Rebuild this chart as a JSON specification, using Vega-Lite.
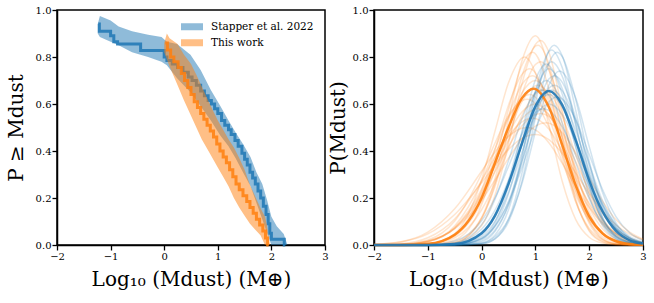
{
  "$schema": "https://vega.github.io/schema/vega-lite/v6.json",
  "background": "white",
  "padding": {"left": 5, "top": 4, "right": 0, "bottom": 0},
  "spacing": -2,
  "config": {
    "view": {"stroke": "black", "strokeWidth": 1.5},
    "axis": {
      "labelFont": "DejaVu Serif", "labelFontSize": 10, "labelColor": "black",
      "titleFont": "DejaVu Serif", "titleFontSize": 20, "titleFontWeight": "normal", "titleColor": "black",
      "tickColor": "black", "tickSize": 5, "tickWidth": 1.3, "domainColor": "black", "domainWidth": 1.5,
      "grid": false, "labelFlush": false, "labelOverlap": false, "labelPadding": 1
    },
    "legend": {"labelFont": "DejaVu Serif", "labelFontSize": 10.5, "labelColor": "black"}
  },
  "resolve": {"scale": {"color": "independent"}, "legend": {"color": "independent"}},
  "datasets": {
    "bands": [
      {"src": "Stapper et al. 2022", "x": -1.24, "lo": 0.9, "hi": 0.94},
      {"src": "Stapper et al. 2022", "x": -1.2, "lo": 0.885, "hi": 0.975},
      {"src": "Stapper et al. 2022", "x": -1.0, "lo": 0.865, "hi": 0.955},
      {"src": "Stapper et al. 2022", "x": -0.85, "lo": 0.85, "hi": 0.93},
      {"src": "Stapper et al. 2022", "x": -0.6, "lo": 0.82, "hi": 0.91},
      {"src": "Stapper et al. 2022", "x": -0.3, "lo": 0.8, "hi": 0.895},
      {"src": "Stapper et al. 2022", "x": -0.05, "lo": 0.78, "hi": 0.885},
      {"src": "Stapper et al. 2022", "x": 0.05, "lo": 0.765, "hi": 0.865},
      {"src": "Stapper et al. 2022", "x": 0.24, "lo": 0.71, "hi": 0.855},
      {"src": "Stapper et al. 2022", "x": 0.49, "lo": 0.65, "hi": 0.81},
      {"src": "Stapper et al. 2022", "x": 0.68, "lo": 0.59, "hi": 0.745},
      {"src": "Stapper et al. 2022", "x": 0.87, "lo": 0.53, "hi": 0.66},
      {"src": "Stapper et al. 2022", "x": 1.05, "lo": 0.465, "hi": 0.59},
      {"src": "Stapper et al. 2022", "x": 1.2, "lo": 0.42, "hi": 0.53},
      {"src": "Stapper et al. 2022", "x": 1.33, "lo": 0.37, "hi": 0.48},
      {"src": "Stapper et al. 2022", "x": 1.47, "lo": 0.31, "hi": 0.43},
      {"src": "Stapper et al. 2022", "x": 1.61, "lo": 0.25, "hi": 0.375},
      {"src": "Stapper et al. 2022", "x": 1.72, "lo": 0.18, "hi": 0.31},
      {"src": "Stapper et al. 2022", "x": 1.83, "lo": 0.11, "hi": 0.26},
      {"src": "Stapper et al. 2022", "x": 1.92, "lo": 0.05, "hi": 0.19},
      {"src": "Stapper et al. 2022", "x": 2.0, "lo": 0.0, "hi": 0.12},
      {"src": "Stapper et al. 2022", "x": 2.1, "lo": 0.0, "hi": 0.08},
      {"src": "Stapper et al. 2022", "x": 2.23, "lo": 0.0, "hi": 0.047},
      {"src": "Stapper et al. 2022", "x": 2.3, "lo": 0.0, "hi": 0.0},
      {"src": "This work", "x": 0.0, "lo": 0.82, "hi": 0.86},
      {"src": "This work", "x": 0.05, "lo": 0.79, "hi": 0.9},
      {"src": "This work", "x": 0.1, "lo": 0.76, "hi": 0.88},
      {"src": "This work", "x": 0.25, "lo": 0.68, "hi": 0.855},
      {"src": "This work", "x": 0.37, "lo": 0.615, "hi": 0.81},
      {"src": "This work", "x": 0.5, "lo": 0.55, "hi": 0.77},
      {"src": "This work", "x": 0.6, "lo": 0.5, "hi": 0.725},
      {"src": "This work", "x": 0.7, "lo": 0.45, "hi": 0.675},
      {"src": "This work", "x": 0.85, "lo": 0.39, "hi": 0.6},
      {"src": "This work", "x": 1.0, "lo": 0.33, "hi": 0.53},
      {"src": "This work", "x": 1.1, "lo": 0.29, "hi": 0.49},
      {"src": "This work", "x": 1.2, "lo": 0.25, "hi": 0.45},
      {"src": "This work", "x": 1.3, "lo": 0.2, "hi": 0.415},
      {"src": "This work", "x": 1.4, "lo": 0.16, "hi": 0.37},
      {"src": "This work", "x": 1.5, "lo": 0.125, "hi": 0.32},
      {"src": "This work", "x": 1.6, "lo": 0.09, "hi": 0.255},
      {"src": "This work", "x": 1.7, "lo": 0.065, "hi": 0.205},
      {"src": "This work", "x": 1.8, "lo": 0.04, "hi": 0.155},
      {"src": "This work", "x": 1.88, "lo": 0.0, "hi": 0.12},
      {"src": "This work", "x": 1.92, "lo": 0.0, "hi": 0.08},
      {"src": "This work", "x": 1.95, "lo": 0.0, "hi": 0.03},
      {"src": "This work", "x": 1.97, "lo": 0.0, "hi": 0.0}
    ],
    "steps": [
      {"src": "Stapper et al. 2022", "x": -1.23, "y": 0.94},
      {"src": "Stapper et al. 2022", "x": -1.21, "y": 0.91},
      {"src": "Stapper et al. 2022", "x": -1.0, "y": 0.89},
      {"src": "Stapper et al. 2022", "x": -0.94, "y": 0.865},
      {"src": "Stapper et al. 2022", "x": -0.87, "y": 0.855},
      {"src": "Stapper et al. 2022", "x": -0.44, "y": 0.828},
      {"src": "Stapper et al. 2022", "x": 0.0, "y": 0.8},
      {"src": "Stapper et al. 2022", "x": 0.05, "y": 0.785},
      {"src": "Stapper et al. 2022", "x": 0.15, "y": 0.77},
      {"src": "Stapper et al. 2022", "x": 0.25, "y": 0.755},
      {"src": "Stapper et al. 2022", "x": 0.35, "y": 0.735},
      {"src": "Stapper et al. 2022", "x": 0.45, "y": 0.715},
      {"src": "Stapper et al. 2022", "x": 0.52, "y": 0.7},
      {"src": "Stapper et al. 2022", "x": 0.6, "y": 0.68},
      {"src": "Stapper et al. 2022", "x": 0.68, "y": 0.655},
      {"src": "Stapper et al. 2022", "x": 0.75, "y": 0.635},
      {"src": "Stapper et al. 2022", "x": 0.82, "y": 0.615},
      {"src": "Stapper et al. 2022", "x": 0.88, "y": 0.6},
      {"src": "Stapper et al. 2022", "x": 0.94, "y": 0.58},
      {"src": "Stapper et al. 2022", "x": 1.0, "y": 0.56},
      {"src": "Stapper et al. 2022", "x": 1.07, "y": 0.53},
      {"src": "Stapper et al. 2022", "x": 1.13, "y": 0.51},
      {"src": "Stapper et al. 2022", "x": 1.2, "y": 0.49},
      {"src": "Stapper et al. 2022", "x": 1.25, "y": 0.47},
      {"src": "Stapper et al. 2022", "x": 1.32, "y": 0.445},
      {"src": "Stapper et al. 2022", "x": 1.38, "y": 0.42},
      {"src": "Stapper et al. 2022", "x": 1.45, "y": 0.39},
      {"src": "Stapper et al. 2022", "x": 1.5, "y": 0.365},
      {"src": "Stapper et al. 2022", "x": 1.55, "y": 0.34},
      {"src": "Stapper et al. 2022", "x": 1.6, "y": 0.31},
      {"src": "Stapper et al. 2022", "x": 1.65, "y": 0.285},
      {"src": "Stapper et al. 2022", "x": 1.7, "y": 0.26},
      {"src": "Stapper et al. 2022", "x": 1.75, "y": 0.23},
      {"src": "Stapper et al. 2022", "x": 1.8, "y": 0.2},
      {"src": "Stapper et al. 2022", "x": 1.85, "y": 0.165},
      {"src": "Stapper et al. 2022", "x": 1.9, "y": 0.13},
      {"src": "Stapper et al. 2022", "x": 1.94, "y": 0.09},
      {"src": "Stapper et al. 2022", "x": 1.97, "y": 0.05},
      {"src": "Stapper et al. 2022", "x": 2.0, "y": 0.025},
      {"src": "Stapper et al. 2022", "x": 2.24, "y": 0.0},
      {"src": "Stapper et al. 2022", "x": 2.26, "y": 0.0},
      {"src": "This work", "x": 0.02, "y": 0.86},
      {"src": "This work", "x": 0.06, "y": 0.83},
      {"src": "This work", "x": 0.12, "y": 0.8},
      {"src": "This work", "x": 0.18, "y": 0.78},
      {"src": "This work", "x": 0.26, "y": 0.755},
      {"src": "This work", "x": 0.32, "y": 0.73},
      {"src": "This work", "x": 0.38, "y": 0.7},
      {"src": "This work", "x": 0.44, "y": 0.67},
      {"src": "This work", "x": 0.5, "y": 0.64},
      {"src": "This work", "x": 0.56, "y": 0.61},
      {"src": "This work", "x": 0.62, "y": 0.585},
      {"src": "This work", "x": 0.68, "y": 0.56},
      {"src": "This work", "x": 0.74, "y": 0.535},
      {"src": "This work", "x": 0.8, "y": 0.51},
      {"src": "This work", "x": 0.86, "y": 0.485},
      {"src": "This work", "x": 0.92, "y": 0.46},
      {"src": "This work", "x": 0.98, "y": 0.43},
      {"src": "This work", "x": 1.04, "y": 0.4},
      {"src": "This work", "x": 1.1, "y": 0.375},
      {"src": "This work", "x": 1.16, "y": 0.35},
      {"src": "This work", "x": 1.22, "y": 0.32},
      {"src": "This work", "x": 1.28, "y": 0.29},
      {"src": "This work", "x": 1.34, "y": 0.26},
      {"src": "This work", "x": 1.4, "y": 0.235},
      {"src": "This work", "x": 1.47, "y": 0.21},
      {"src": "This work", "x": 1.54, "y": 0.185},
      {"src": "This work", "x": 1.6, "y": 0.16},
      {"src": "This work", "x": 1.66, "y": 0.135},
      {"src": "This work", "x": 1.72, "y": 0.11},
      {"src": "This work", "x": 1.78, "y": 0.085},
      {"src": "This work", "x": 1.84, "y": 0.06},
      {"src": "This work", "x": 1.89, "y": 0.03},
      {"src": "This work", "x": 1.93, "y": 0.0},
      {"src": "This work", "x": 1.95, "y": 0.0}
    ],
    "curves": [
      {"id": "o1", "x": -2, "y": 0}, {"id": "o1", "x": -1.5, "y": 0}, {"id": "o1", "x": -1, "y": 0}, {"id": "o1", "x": -0.5, "y": 0.009}, {"id": "o1", "x": 0, "y": 0.116}, {"id": "o1", "x": 0.25, "y": 0.282}, {"id": "o1", "x": 0.5, "y": 0.534}, {"id": "o1", "x": 0.75, "y": 0.783}, {"id": "o1", "x": 1, "y": 0.89}, {"id": "o1", "x": 1.25, "y": 0.752}, {"id": "o1", "x": 1.5, "y": 0.454}, {"id": "o1", "x": 1.75, "y": 0.196}, {"id": "o1", "x": 2, "y": 0.059}, {"id": "o1", "x": 2.25, "y": 0.013}, {"id": "o1", "x": 2.5, "y": 0.002}, {"id": "o1", "x": 2.75, "y": 0}, {"id": "o1", "x": 3, "y": 0},
      {"id": "o2", "x": -2, "y": 0}, {"id": "o2", "x": -1.5, "y": 0}, {"id": "o2", "x": -1, "y": 0}, {"id": "o2", "x": -0.5, "y": 0.01}, {"id": "o2", "x": 0, "y": 0.11}, {"id": "o2", "x": 0.25, "y": 0.26}, {"id": "o2", "x": 0.5, "y": 0.485}, {"id": "o2", "x": 0.75, "y": 0.718}, {"id": "o2", "x": 1, "y": 0.846}, {"id": "o2", "x": 1.05, "y": 0.85}, {"id": "o2", "x": 1.25, "y": 0.771}, {"id": "o2", "x": 1.5, "y": 0.516}, {"id": "o2", "x": 1.75, "y": 0.252}, {"id": "o2", "x": 2, "y": 0.092}, {"id": "o2", "x": 2.25, "y": 0.024}, {"id": "o2", "x": 2.5, "y": 0.005}, {"id": "o2", "x": 2.75, "y": 0.001}, {"id": "o2", "x": 3, "y": 0},
      {"id": "o3", "x": -2, "y": 0}, {"id": "o3", "x": -1.5, "y": 0}, {"id": "o3", "x": -1, "y": 0.001}, {"id": "o3", "x": -0.5, "y": 0.021}, {"id": "o3", "x": 0, "y": 0.171}, {"id": "o3", "x": 0.25, "y": 0.353}, {"id": "o3", "x": 0.5, "y": 0.576}, {"id": "o3", "x": 0.75, "y": 0.765}, {"id": "o3", "x": 0.95, "y": 0.82}, {"id": "o3", "x": 1.25, "y": 0.664}, {"id": "o3", "x": 1.5, "y": 0.406}, {"id": "o3", "x": 1.75, "y": 0.186}, {"id": "o3", "x": 2, "y": 0.064}, {"id": "o3", "x": 2.25, "y": 0.016}, {"id": "o3", "x": 2.5, "y": 0.003}, {"id": "o3", "x": 2.75, "y": 0}, {"id": "o3", "x": 3, "y": 0},
      {"id": "o4", "x": -2, "y": 0}, {"id": "o4", "x": -1.5, "y": 0}, {"id": "o4", "x": -1, "y": 0.001}, {"id": "o4", "x": -0.5, "y": 0.014}, {"id": "o4", "x": 0, "y": 0.116}, {"id": "o4", "x": 0.25, "y": 0.25}, {"id": "o4", "x": 0.5, "y": 0.444}, {"id": "o4", "x": 0.75, "y": 0.643}, {"id": "o4", "x": 1, "y": 0.768}, {"id": "o4", "x": 1.1, "y": 0.78}, {"id": "o4", "x": 1.25, "y": 0.744}, {"id": "o4", "x": 1.5, "y": 0.557}, {"id": "o4", "x": 1.75, "y": 0.32}, {"id": "o4", "x": 2, "y": 0.141}, {"id": "o4", "x": 2.25, "y": 0.048}, {"id": "o4", "x": 2.5, "y": 0.013}, {"id": "o4", "x": 2.75, "y": 0.002}, {"id": "o4", "x": 3, "y": 0},
      {"id": "o5", "x": -2, "y": 0}, {"id": "o5", "x": -1.5, "y": 0}, {"id": "o5", "x": -1, "y": 0.004}, {"id": "o5", "x": -0.5, "y": 0.044}, {"id": "o5", "x": 0, "y": 0.233}, {"id": "o5", "x": 0.25, "y": 0.406}, {"id": "o5", "x": 0.5, "y": 0.595}, {"id": "o5", "x": 0.75, "y": 0.726}, {"id": "o5", "x": 0.9, "y": 0.75}, {"id": "o5", "x": 1.25, "y": 0.591}, {"id": "o5", "x": 1.5, "y": 0.374}, {"id": "o5", "x": 1.75, "y": 0.183}, {"id": "o5", "x": 2, "y": 0.071}, {"id": "o5", "x": 2.25, "y": 0.022}, {"id": "o5", "x": 2.5, "y": 0.005}, {"id": "o5", "x": 2.75, "y": 0.001}, {"id": "o5", "x": 3, "y": 0},
      {"id": "o6", "x": -2, "y": 0}, {"id": "o6", "x": -1.5, "y": 0}, {"id": "o6", "x": -1, "y": 0.004}, {"id": "o6", "x": -0.5, "y": 0.041}, {"id": "o6", "x": 0, "y": 0.198}, {"id": "o6", "x": 0.25, "y": 0.345}, {"id": "o6", "x": 0.5, "y": 0.51}, {"id": "o6", "x": 0.75, "y": 0.647}, {"id": "o6", "x": 1, "y": 0.7}, {"id": "o6", "x": 1.25, "y": 0.629}, {"id": "o6", "x": 1.5, "y": 0.458}, {"id": "o6", "x": 1.75, "y": 0.27}, {"id": "o6", "x": 2, "y": 0.129}, {"id": "o6", "x": 2.25, "y": 0.05}, {"id": "o6", "x": 2.5, "y": 0.016}, {"id": "o6", "x": 2.75, "y": 0.004}, {"id": "o6", "x": 3, "y": 0.001},
      {"id": "o7", "x": -2, "y": 0}, {"id": "o7", "x": -1.5, "y": 0}, {"id": "o7", "x": -1, "y": 0.004}, {"id": "o7", "x": -0.5, "y": 0.031}, {"id": "o7", "x": 0, "y": 0.15}, {"id": "o7", "x": 0.25, "y": 0.265}, {"id": "o7", "x": 0.5, "y": 0.41}, {"id": "o7", "x": 0.75, "y": 0.551}, {"id": "o7", "x": 1, "y": 0.643}, {"id": "o7", "x": 1.15, "y": 0.66}, {"id": "o7", "x": 1.25, "y": 0.65}, {"id": "o7", "x": 1.5, "y": 0.548}, {"id": "o7", "x": 1.75, "y": 0.383}, {"id": "o7", "x": 2, "y": 0.222}, {"id": "o7", "x": 2.25, "y": 0.106}, {"id": "o7", "x": 2.5, "y": 0.043}, {"id": "o7", "x": 2.75, "y": 0.014}, {"id": "o7", "x": 3, "y": 0.004},
      {"id": "o8", "x": -2, "y": 0}, {"id": "o8", "x": -1.5, "y": 0.003}, {"id": "o8", "x": -1, "y": 0.021}, {"id": "o8", "x": -0.5, "y": 0.102}, {"id": "o8", "x": 0, "y": 0.303}, {"id": "o8", "x": 0.25, "y": 0.434}, {"id": "o8", "x": 0.5, "y": 0.549}, {"id": "o8", "x": 0.75, "y": 0.614}, {"id": "o8", "x": 0.85, "y": 0.62}, {"id": "o8", "x": 1, "y": 0.602}, {"id": "o8", "x": 1.25, "y": 0.502}, {"id": "o8", "x": 1.5, "y": 0.353}, {"id": "o8", "x": 1.75, "y": 0.211}, {"id": "o8", "x": 2, "y": 0.107}, {"id": "o8", "x": 2.25, "y": 0.046}, {"id": "o8", "x": 2.5, "y": 0.017}, {"id": "o8", "x": 2.75, "y": 0.005}, {"id": "o8", "x": 3, "y": 0.001},
      {"id": "o9", "x": -2, "y": 0}, {"id": "o9", "x": -1.5, "y": 0.002}, {"id": "o9", "x": -1, "y": 0.015}, {"id": "o9", "x": -0.5, "y": 0.072}, {"id": "o9", "x": 0, "y": 0.223}, {"id": "o9", "x": 0.25, "y": 0.333}, {"id": "o9", "x": 0.5, "y": 0.446}, {"id": "o9", "x": 0.75, "y": 0.537}, {"id": "o9", "x": 1.05, "y": 0.58}, {"id": "o9", "x": 1.25, "y": 0.554}, {"id": "o9", "x": 1.5, "y": 0.458}, {"id": "o9", "x": 1.75, "y": 0.328}, {"id": "o9", "x": 2, "y": 0.202}, {"id": "o9", "x": 2.25, "y": 0.108}, {"id": "o9", "x": 2.5, "y": 0.05}, {"id": "o9", "x": 2.75, "y": 0.02}, {"id": "o9", "x": 3, "y": 0.007},
      {"id": "o10", "x": -2, "y": 0.001}, {"id": "o10", "x": -1.5, "y": 0.006}, {"id": "o10", "x": -1, "y": 0.031}, {"id": "o10", "x": -0.5, "y": 0.111}, {"id": "o10", "x": 0, "y": 0.274}, {"id": "o10", "x": 0.25, "y": 0.374}, {"id": "o10", "x": 0.5, "y": 0.463}, {"id": "o10", "x": 0.75, "y": 0.524}, {"id": "o10", "x": 0.95, "y": 0.54}, {"id": "o10", "x": 1.25, "y": 0.493}, {"id": "o10", "x": 1.5, "y": 0.398}, {"id": "o10", "x": 1.75, "y": 0.282}, {"id": "o10", "x": 2, "y": 0.178}, {"id": "o10", "x": 2.25, "y": 0.098}, {"id": "o10", "x": 2.5, "y": 0.048}, {"id": "o10", "x": 2.75, "y": 0.02}, {"id": "o10", "x": 3, "y": 0.008},
      {"id": "o11", "x": -2, "y": 0.003}, {"id": "o11", "x": -1.5, "y": 0.014}, {"id": "o11", "x": -1, "y": 0.055}, {"id": "o11", "x": -0.5, "y": 0.154}, {"id": "o11", "x": 0, "y": 0.314}, {"id": "o11", "x": 0.25, "y": 0.396}, {"id": "o11", "x": 0.5, "y": 0.462}, {"id": "o11", "x": 0.75, "y": 0.497}, {"id": "o11", "x": 0.85, "y": 0.5}, {"id": "o11", "x": 1, "y": 0.49}, {"id": "o11", "x": 1.25, "y": 0.435}, {"id": "o11", "x": 1.5, "y": 0.347}, {"id": "o11", "x": 1.75, "y": 0.249}, {"id": "o11", "x": 2, "y": 0.16}, {"id": "o11", "x": 2.25, "y": 0.092}, {"id": "o11", "x": 2.5, "y": 0.047}, {"id": "o11", "x": 2.75, "y": 0.022}, {"id": "o11", "x": 3, "y": 0.009},
      {"id": "o12", "x": -2, "y": 0.003}, {"id": "o12", "x": -1.5, "y": 0.013}, {"id": "o12", "x": -1, "y": 0.047}, {"id": "o12", "x": -0.5, "y": 0.13}, {"id": "o12", "x": 0, "y": 0.265}, {"id": "o12", "x": 0.25, "y": 0.341}, {"id": "o12", "x": 0.5, "y": 0.407}, {"id": "o12", "x": 0.75, "y": 0.454}, {"id": "o12", "x": 1, "y": 0.47}, {"id": "o12", "x": 1.25, "y": 0.448}, {"id": "o12", "x": 1.5, "y": 0.389}, {"id": "o12", "x": 1.75, "y": 0.306}, {"id": "o12", "x": 2, "y": 0.219}, {"id": "o12", "x": 2.25, "y": 0.143}, {"id": "o12", "x": 2.5, "y": 0.085}, {"id": "o12", "x": 2.75, "y": 0.046}, {"id": "o12", "x": 3, "y": 0.022},
      {"id": "o13", "x": -2, "y": 0}, {"id": "o13", "x": -1.5, "y": 0}, {"id": "o13", "x": -1, "y": 0}, {"id": "o13", "x": -0.5, "y": 0.006}, {"id": "o13", "x": 0, "y": 0.083}, {"id": "o13", "x": 0.25, "y": 0.212}, {"id": "o13", "x": 0.5, "y": 0.43}, {"id": "o13", "x": 0.75, "y": 0.686}, {"id": "o13", "x": 1, "y": 0.853}, {"id": "o13", "x": 1.1, "y": 0.87}, {"id": "o13", "x": 1.25, "y": 0.82}, {"id": "o13", "x": 1.5, "y": 0.573}, {"id": "o13", "x": 1.75, "y": 0.288}, {"id": "o13", "x": 2, "y": 0.104}, {"id": "o13", "x": 2.25, "y": 0.027}, {"id": "o13", "x": 2.5, "y": 0.005}, {"id": "o13", "x": 2.75, "y": 0.001}, {"id": "o13", "x": 3, "y": 0},
      {"id": "o14", "x": -2, "y": 0}, {"id": "o14", "x": -1.5, "y": 0}, {"id": "o14", "x": -1, "y": 0.004}, {"id": "o14", "x": -0.5, "y": 0.043}, {"id": "o14", "x": 0, "y": 0.215}, {"id": "o14", "x": 0.25, "y": 0.374}, {"id": "o14", "x": 0.5, "y": 0.549}, {"id": "o14", "x": 0.75, "y": 0.683}, {"id": "o14", "x": 0.95, "y": 0.72}, {"id": "o14", "x": 1.25, "y": 0.613}, {"id": "o14", "x": 1.5, "y": 0.419}, {"id": "o14", "x": 1.75, "y": 0.228}, {"id": "o14", "x": 2, "y": 0.099}, {"id": "o14", "x": 2.25, "y": 0.035}, {"id": "o14", "x": 2.5, "y": 0.01}, {"id": "o14", "x": 2.75, "y": 0.002}, {"id": "o14", "x": 3, "y": 0},
      {"id": "o15", "x": -2, "y": 0}, {"id": "o15", "x": -1.5, "y": 0}, {"id": "o15", "x": -1, "y": 0.004}, {"id": "o15", "x": -0.5, "y": 0.038}, {"id": "o15", "x": 0, "y": 0.183}, {"id": "o15", "x": 0.25, "y": 0.317}, {"id": "o15", "x": 0.5, "y": 0.474}, {"id": "o15", "x": 0.75, "y": 0.61}, {"id": "o15", "x": 1.05, "y": 0.68}, {"id": "o15", "x": 1.25, "y": 0.638}, {"id": "o15", "x": 1.5, "y": 0.492}, {"id": "o15", "x": 1.75, "y": 0.311}, {"id": "o15", "x": 2, "y": 0.16}, {"id": "o15", "x": 2.25, "y": 0.068}, {"id": "o15", "x": 2.5, "y": 0.024}, {"id": "o15", "x": 2.75, "y": 0.007}, {"id": "o15", "x": 3, "y": 0.002},
      {"id": "o16", "x": -2, "y": 0}, {"id": "o16", "x": -1.5, "y": 0.001}, {"id": "o16", "x": -1, "y": 0.014}, {"id": "o16", "x": -0.5, "y": 0.081}, {"id": "o16", "x": 0, "y": 0.271}, {"id": "o16", "x": 0.25, "y": 0.41}, {"id": "o16", "x": 0.5, "y": 0.54}, {"id": "o16", "x": 0.75, "y": 0.625}, {"id": "o16", "x": 0.9, "y": 0.64}, {"id": "o16", "x": 1.25, "y": 0.538}, {"id": "o16", "x": 1.5, "y": 0.384}, {"id": "o16", "x": 1.75, "y": 0.23}, {"id": "o16", "x": 2, "y": 0.115}, {"id": "o16", "x": 2.25, "y": 0.049}, {"id": "o16", "x": 2.5, "y": 0.017}, {"id": "o16", "x": 2.75, "y": 0.005}, {"id": "o16", "x": 3, "y": 0.001},
      {"id": "o17", "x": -2, "y": 0}, {"id": "o17", "x": -1.5, "y": 0.002}, {"id": "o17", "x": -1, "y": 0.016}, {"id": "o17", "x": -0.5, "y": 0.071}, {"id": "o17", "x": 0, "y": 0.21}, {"id": "o17", "x": 0.25, "y": 0.312}, {"id": "o17", "x": 0.5, "y": 0.418}, {"id": "o17", "x": 0.75, "y": 0.507}, {"id": "o17", "x": 1.1, "y": 0.56}, {"id": "o17", "x": 1.25, "y": 0.547}, {"id": "o17", "x": 1.5, "y": 0.471}, {"id": "o17", "x": 1.75, "y": 0.354}, {"id": "o17", "x": 2, "y": 0.233}, {"id": "o17", "x": 2.25, "y": 0.133}, {"id": "o17", "x": 2.5, "y": 0.067}, {"id": "o17", "x": 2.75, "y": 0.029}, {"id": "o17", "x": 3, "y": 0.011},
      {"id": "o18", "x": -2, "y": 0}, {"id": "o18", "x": -1.5, "y": 0.003}, {"id": "o18", "x": -1, "y": 0.018}, {"id": "o18", "x": -0.5, "y": 0.069}, {"id": "o18", "x": 0, "y": 0.19}, {"id": "o18", "x": 0.25, "y": 0.277}, {"id": "o18", "x": 0.5, "y": 0.369}, {"id": "o18", "x": 0.75, "y": 0.451}, {"id": "o18", "x": 1, "y": 0.506}, {"id": "o18", "x": 1.2, "y": 0.52}, {"id": "o18", "x": 1.5, "y": 0.478}, {"id": "o18", "x": 1.75, "y": 0.392}, {"id": "o18", "x": 2, "y": 0.286}, {"id": "o18", "x": 2.25, "y": 0.186}, {"id": "o18", "x": 2.5, "y": 0.107}, {"id": "o18", "x": 2.75, "y": 0.055}, {"id": "o18", "x": 3, "y": 0.025},
      {"id": "o19", "x": -2, "y": 0}, {"id": "o19", "x": -1.5, "y": 0}, {"id": "o19", "x": -1, "y": 0.004}, {"id": "o19", "x": -0.5, "y": 0.049}, {"id": "o19", "x": 0, "y": 0.278}, {"id": "o19", "x": 0.25, "y": 0.485}, {"id": "o19", "x": 0.5, "y": 0.69}, {"id": "o19", "x": 0.8, "y": 0.8}, {"id": "o19", "x": 1, "y": 0.732}, {"id": "o19", "x": 1.25, "y": 0.511}, {"id": "o19", "x": 1.5, "y": 0.27}, {"id": "o19", "x": 1.75, "y": 0.108}, {"id": "o19", "x": 2, "y": 0.033}, {"id": "o19", "x": 2.25, "y": 0.008}, {"id": "o19", "x": 2.5, "y": 0.001}, {"id": "o19", "x": 2.75, "y": 0}, {"id": "o19", "x": 3, "y": 0},
      {"id": "o20", "x": -2, "y": 0}, {"id": "o20", "x": -1.5, "y": 0.002}, {"id": "o20", "x": -1, "y": 0.014}, {"id": "o20", "x": -0.5, "y": 0.074}, {"id": "o20", "x": 0, "y": 0.237}, {"id": "o20", "x": 0.25, "y": 0.356}, {"id": "o20", "x": 0.5, "y": 0.476}, {"id": "o20", "x": 0.75, "y": 0.566}, {"id": "o20", "x": 1, "y": 0.6}, {"id": "o20", "x": 1.25, "y": 0.555}, {"id": "o20", "x": 1.5, "y": 0.439}, {"id": "o20", "x": 1.75, "y": 0.297}, {"id": "o20", "x": 2, "y": 0.172}, {"id": "o20", "x": 2.25, "y": 0.085}, {"id": "o20", "x": 2.5, "y": 0.036}, {"id": "o20", "x": 2.75, "y": 0.013}, {"id": "o20", "x": 3, "y": 0.004},
      {"id": "b1", "x": -2, "y": 0}, {"id": "b1", "x": -1, "y": 0}, {"id": "b1", "x": -0.5, "y": 0}, {"id": "b1", "x": 0, "y": 0.005}, {"id": "b1", "x": 0.25, "y": 0.027}, {"id": "b1", "x": 0.5, "y": 0.11}, {"id": "b1", "x": 0.75, "y": 0.306}, {"id": "b1", "x": 1, "y": 0.601}, {"id": "b1", "x": 1.25, "y": 0.826}, {"id": "b1", "x": 1.35, "y": 0.85}, {"id": "b1", "x": 1.5, "y": 0.804}, {"id": "b1", "x": 1.75, "y": 0.573}, {"id": "b1", "x": 2, "y": 0.3}, {"id": "b1", "x": 2.25, "y": 0.115}, {"id": "b1", "x": 2.5, "y": 0.032}, {"id": "b1", "x": 2.75, "y": 0.007}, {"id": "b1", "x": 3, "y": 0.001},
      {"id": "b2", "x": -2, "y": 0}, {"id": "b2", "x": -1, "y": 0}, {"id": "b2", "x": -0.5, "y": 0}, {"id": "b2", "x": 0, "y": 0.005}, {"id": "b2", "x": 0.25, "y": 0.026}, {"id": "b2", "x": 0.5, "y": 0.098}, {"id": "b2", "x": 0.75, "y": 0.271}, {"id": "b2", "x": 1, "y": 0.54}, {"id": "b2", "x": 1.25, "y": 0.773}, {"id": "b2", "x": 1.4, "y": 0.82}, {"id": "b2", "x": 1.5, "y": 0.801}, {"id": "b2", "x": 1.75, "y": 0.618}, {"id": "b2", "x": 2, "y": 0.357}, {"id": "b2", "x": 2.25, "y": 0.154}, {"id": "b2", "x": 2.5, "y": 0.05}, {"id": "b2", "x": 2.75, "y": 0.012}, {"id": "b2", "x": 3, "y": 0.002},
      {"id": "b3", "x": -2, "y": 0}, {"id": "b3", "x": -1, "y": 0}, {"id": "b3", "x": -0.5, "y": 0}, {"id": "b3", "x": 0, "y": 0.014}, {"id": "b3", "x": 0.25, "y": 0.058}, {"id": "b3", "x": 0.5, "y": 0.172}, {"id": "b3", "x": 0.75, "y": 0.381}, {"id": "b3", "x": 1, "y": 0.63}, {"id": "b3", "x": 1.3, "y": 0.78}, {"id": "b3", "x": 1.5, "y": 0.717}, {"id": "b3", "x": 1.75, "y": 0.51}, {"id": "b3", "x": 2, "y": 0.279}, {"id": "b3", "x": 2.25, "y": 0.117}, {"id": "b3", "x": 2.5, "y": 0.038}, {"id": "b3", "x": 2.75, "y": 0.009}, {"id": "b3", "x": 3, "y": 0.002},
      {"id": "b4", "x": -2, "y": 0}, {"id": "b4", "x": -1, "y": 0}, {"id": "b4", "x": -0.5, "y": 0.001}, {"id": "b4", "x": 0, "y": 0.025}, {"id": "b4", "x": 0.25, "y": 0.084}, {"id": "b4", "x": 0.5, "y": 0.218}, {"id": "b4", "x": 0.75, "y": 0.434}, {"id": "b4", "x": 1, "y": 0.654}, {"id": "b4", "x": 1.25, "y": 0.75}, {"id": "b4", "x": 1.5, "y": 0.665}, {"id": "b4", "x": 1.75, "y": 0.462}, {"id": "b4", "x": 2, "y": 0.252}, {"id": "b4", "x": 2.25, "y": 0.108}, {"id": "b4", "x": 2.5, "y": 0.036}, {"id": "b4", "x": 2.75, "y": 0.01}, {"id": "b4", "x": 3, "y": 0.002},
      {"id": "b5", "x": -2, "y": 0}, {"id": "b5", "x": -1, "y": 0}, {"id": "b5", "x": -0.5, "y": 0.001}, {"id": "b5", "x": 0, "y": 0.019}, {"id": "b5", "x": 0.25, "y": 0.064}, {"id": "b5", "x": 0.5, "y": 0.17}, {"id": "b5", "x": 0.75, "y": 0.351}, {"id": "b5", "x": 1, "y": 0.564}, {"id": "b5", "x": 1.25, "y": 0.706}, {"id": "b5", "x": 1.35, "y": 0.72}, {"id": "b5", "x": 1.5, "y": 0.692}, {"id": "b5", "x": 1.75, "y": 0.541}, {"id": "b5", "x": 2, "y": 0.338}, {"id": "b5", "x": 2.25, "y": 0.17}, {"id": "b5", "x": 2.5, "y": 0.068}, {"id": "b5", "x": 2.75, "y": 0.022}, {"id": "b5", "x": 3, "y": 0.006},
      {"id": "b6", "x": -2, "y": 0}, {"id": "b6", "x": -1, "y": 0}, {"id": "b6", "x": -0.5, "y": 0.003}, {"id": "b6", "x": 0, "y": 0.045}, {"id": "b6", "x": 0.25, "y": 0.126}, {"id": "b6", "x": 0.5, "y": 0.276}, {"id": "b6", "x": 0.75, "y": 0.477}, {"id": "b6", "x": 1, "y": 0.649}, {"id": "b6", "x": 1.2, "y": 0.7}, {"id": "b6", "x": 1.5, "y": 0.602}, {"id": "b6", "x": 1.75, "y": 0.42}, {"id": "b6", "x": 2, "y": 0.238}, {"id": "b6", "x": 2.25, "y": 0.109}, {"id": "b6", "x": 2.5, "y": 0.041}, {"id": "b6", "x": 2.75, "y": 0.012}, {"id": "b6", "x": 3, "y": 0.003},
      {"id": "b7", "x": -2, "y": 0}, {"id": "b7", "x": -1, "y": 0}, {"id": "b7", "x": -0.5, "y": 0.003}, {"id": "b7", "x": 0, "y": 0.038}, {"id": "b7", "x": 0.25, "y": 0.102}, {"id": "b7", "x": 0.5, "y": 0.223}, {"id": "b7", "x": 0.75, "y": 0.395}, {"id": "b7", "x": 1, "y": 0.566}, {"id": "b7", "x": 1.3, "y": 0.66}, {"id": "b7", "x": 1.5, "y": 0.622}, {"id": "b7", "x": 1.75, "y": 0.487}, {"id": "b7", "x": 2, "y": 0.316}, {"id": "b7", "x": 2.25, "y": 0.17}, {"id": "b7", "x": 2.5, "y": 0.076}, {"id": "b7", "x": 2.75, "y": 0.028}, {"id": "b7", "x": 3, "y": 0.009},
      {"id": "b8", "x": -2, "y": 0}, {"id": "b8", "x": -1, "y": 0}, {"id": "b8", "x": -0.5, "y": 0.002}, {"id": "b8", "x": 0, "y": 0.031}, {"id": "b8", "x": 0.25, "y": 0.082}, {"id": "b8", "x": 0.5, "y": 0.181}, {"id": "b8", "x": 0.75, "y": 0.329}, {"id": "b8", "x": 1, "y": 0.493}, {"id": "b8", "x": 1.25, "y": 0.609}, {"id": "b8", "x": 1.4, "y": 0.63}, {"id": "b8", "x": 1.5, "y": 0.621}, {"id": "b8", "x": 1.75, "y": 0.533}, {"id": "b8", "x": 2, "y": 0.385}, {"id": "b8", "x": 2.25, "y": 0.235}, {"id": "b8", "x": 2.5, "y": 0.12}, {"id": "b8", "x": 2.75, "y": 0.052}, {"id": "b8", "x": 3, "y": 0.019},
      {"id": "b9", "x": -2, "y": 0}, {"id": "b9", "x": -1, "y": 0.001}, {"id": "b9", "x": -0.5, "y": 0.008}, {"id": "b9", "x": 0, "y": 0.067}, {"id": "b9", "x": 0.25, "y": 0.148}, {"id": "b9", "x": 0.5, "y": 0.274}, {"id": "b9", "x": 0.75, "y": 0.423}, {"id": "b9", "x": 1, "y": 0.55}, {"id": "b9", "x": 1.25, "y": 0.6}, {"id": "b9", "x": 1.5, "y": 0.555}, {"id": "b9", "x": 1.75, "y": 0.44}, {"id": "b9", "x": 2, "y": 0.299}, {"id": "b9", "x": 2.25, "y": 0.173}, {"id": "b9", "x": 2.5, "y": 0.086}, {"id": "b9", "x": 2.75, "y": 0.037}, {"id": "b9", "x": 3, "y": 0.013},
      {"id": "b10", "x": -2, "y": 0}, {"id": "b10", "x": -1, "y": 0.001}, {"id": "b10", "x": -0.5, "y": 0.017}, {"id": "b10", "x": 0, "y": 0.103}, {"id": "b10", "x": 0.25, "y": 0.201}, {"id": "b10", "x": 0.5, "y": 0.334}, {"id": "b10", "x": 0.75, "y": 0.471}, {"id": "b10", "x": 1, "y": 0.563}, {"id": "b10", "x": 1.15, "y": 0.58}, {"id": "b10", "x": 1.25, "y": 0.573}, {"id": "b10", "x": 1.5, "y": 0.503}, {"id": "b10", "x": 1.75, "y": 0.382}, {"id": "b10", "x": 2, "y": 0.251}, {"id": "b10", "x": 2.25, "y": 0.143}, {"id": "b10", "x": 2.5, "y": 0.07}, {"id": "b10", "x": 2.75, "y": 0.03}, {"id": "b10", "x": 3, "y": 0.011},
      {"id": "b11", "x": -2, "y": 0}, {"id": "b11", "x": -1, "y": 0}, {"id": "b11", "x": -0.5, "y": 0}, {"id": "b11", "x": 0, "y": 0.009}, {"id": "b11", "x": 0.25, "y": 0.043}, {"id": "b11", "x": 0.5, "y": 0.15}, {"id": "b11", "x": 0.75, "y": 0.369}, {"id": "b11", "x": 1, "y": 0.652}, {"id": "b11", "x": 1.3, "y": 0.83}, {"id": "b11", "x": 1.5, "y": 0.754}, {"id": "b11", "x": 1.75, "y": 0.514}, {"id": "b11", "x": 2, "y": 0.26}, {"id": "b11", "x": 2.25, "y": 0.097}, {"id": "b11", "x": 2.5, "y": 0.027}, {"id": "b11", "x": 2.75, "y": 0.006}, {"id": "b11", "x": 3, "y": 0.001},
      {"id": "b12", "x": -2, "y": 0}, {"id": "b12", "x": -1, "y": 0}, {"id": "b12", "x": -0.5, "y": 0.001}, {"id": "b12", "x": 0, "y": 0.028}, {"id": "b12", "x": 0.25, "y": 0.096}, {"id": "b12", "x": 0.5, "y": 0.25}, {"id": "b12", "x": 0.75, "y": 0.483}, {"id": "b12", "x": 1, "y": 0.702}, {"id": "b12", "x": 1.2, "y": 0.77}, {"id": "b12", "x": 1.5, "y": 0.641}, {"id": "b12", "x": 1.75, "y": 0.415}, {"id": "b12", "x": 2, "y": 0.209}, {"id": "b12", "x": 2.25, "y": 0.082}, {"id": "b12", "x": 2.5, "y": 0.025}, {"id": "b12", "x": 2.75, "y": 0.006}, {"id": "b12", "x": 3, "y": 0.001},
      {"id": "b13", "x": -2, "y": 0}, {"id": "b13", "x": -1, "y": 0}, {"id": "b13", "x": -0.5, "y": 0.001}, {"id": "b13", "x": 0, "y": 0.026}, {"id": "b13", "x": 0.25, "y": 0.078}, {"id": "b13", "x": 0.5, "y": 0.186}, {"id": "b13", "x": 0.75, "y": 0.357}, {"id": "b13", "x": 1, "y": 0.546}, {"id": "b13", "x": 1.25, "y": 0.668}, {"id": "b13", "x": 1.35, "y": 0.68}, {"id": "b13", "x": 1.5, "y": 0.656}, {"id": "b13", "x": 1.75, "y": 0.527}, {"id": "b13", "x": 2, "y": 0.347}, {"id": "b13", "x": 2.25, "y": 0.187}, {"id": "b13", "x": 2.5, "y": 0.082}, {"id": "b13", "x": 2.75, "y": 0.03}, {"id": "b13", "x": 3, "y": 0.009},
      {"id": "b14", "x": -2, "y": 0}, {"id": "b14", "x": -1, "y": 0}, {"id": "b14", "x": -0.5, "y": 0.005}, {"id": "b14", "x": 0, "y": 0.054}, {"id": "b14", "x": 0.25, "y": 0.13}, {"id": "b14", "x": 0.5, "y": 0.262}, {"id": "b14", "x": 0.75, "y": 0.43}, {"id": "b14", "x": 1, "y": 0.579}, {"id": "b14", "x": 1.25, "y": 0.64}, {"id": "b14", "x": 1.5, "y": 0.586}, {"id": "b14", "x": 1.75, "y": 0.45}, {"id": "b14", "x": 2, "y": 0.289}, {"id": "b14", "x": 2.25, "y": 0.156}, {"id": "b14", "x": 2.5, "y": 0.071}, {"id": "b14", "x": 2.75, "y": 0.027}, {"id": "b14", "x": 3, "y": 0.009},
      {"id": "b15", "x": -2, "y": 0}, {"id": "b15", "x": -1, "y": 0}, {"id": "b15", "x": -0.5, "y": 0}, {"id": "b15", "x": 0, "y": 0.008}, {"id": "b15", "x": 0.25, "y": 0.035}, {"id": "b15", "x": 0.5, "y": 0.109}, {"id": "b15", "x": 0.75, "y": 0.261}, {"id": "b15", "x": 1, "y": 0.481}, {"id": "b15", "x": 1.25, "y": 0.68}, {"id": "b15", "x": 1.45, "y": 0.74}, {"id": "b15", "x": 1.75, "y": 0.625}, {"id": "b15", "x": 2, "y": 0.419}, {"id": "b15", "x": 2.25, "y": 0.222}, {"id": "b15", "x": 2.5, "y": 0.093}, {"id": "b15", "x": 2.75, "y": 0.031}, {"id": "b15", "x": 3, "y": 0.008},
      {"id": "b16", "x": -2, "y": 0}, {"id": "b16", "x": -1, "y": 0}, {"id": "b16", "x": -0.5, "y": 0.009}, {"id": "b16", "x": 0, "y": 0.086}, {"id": "b16", "x": 0.25, "y": 0.195}, {"id": "b16", "x": 0.5, "y": 0.359}, {"id": "b16", "x": 0.75, "y": 0.537}, {"id": "b16", "x": 1, "y": 0.649}, {"id": "b16", "x": 1.1, "y": 0.66}, {"id": "b16", "x": 1.25, "y": 0.638}, {"id": "b16", "x": 1.5, "y": 0.519}, {"id": "b16", "x": 1.75, "y": 0.35}, {"id": "b16", "x": 2, "y": 0.196}, {"id": "b16", "x": 2.25, "y": 0.091}, {"id": "b16", "x": 2.5, "y": 0.035}, {"id": "b16", "x": 2.75, "y": 0.011}, {"id": "b16", "x": 3, "y": 0.003},
      {"id": "ob", "x": -2, "y": 0}, {"id": "ob", "x": -1.5, "y": 0}, {"id": "ob", "x": -1, "y": 0.005}, {"id": "ob", "x": -0.5, "y": 0.044}, {"id": "ob", "x": 0, "y": 0.2}, {"id": "ob", "x": 0.25, "y": 0.35}, {"id": "ob", "x": 0.5, "y": 0.5}, {"id": "ob", "x": 0.75, "y": 0.625}, {"id": "ob", "x": 0.97, "y": 0.665}, {"id": "ob", "x": 1.25, "y": 0.587}, {"id": "ob", "x": 1.5, "y": 0.425}, {"id": "ob", "x": 1.75, "y": 0.253}, {"id": "ob", "x": 2, "y": 0.122}, {"id": "ob", "x": 2.25, "y": 0.049}, {"id": "ob", "x": 2.5, "y": 0.016}, {"id": "ob", "x": 2.75, "y": 0.004}, {"id": "ob", "x": 3, "y": 0.001},
      {"id": "bb", "x": -2, "y": 0}, {"id": "bb", "x": -1, "y": 0}, {"id": "bb", "x": -0.5, "y": 0.004}, {"id": "bb", "x": 0, "y": 0.05}, {"id": "bb", "x": 0.25, "y": 0.125}, {"id": "bb", "x": 0.5, "y": 0.26}, {"id": "bb", "x": 0.75, "y": 0.433}, {"id": "bb", "x": 1, "y": 0.59}, {"id": "bb", "x": 1.25, "y": 0.655}, {"id": "bb", "x": 1.5, "y": 0.595}, {"id": "bb", "x": 1.75, "y": 0.445}, {"id": "bb", "x": 2, "y": 0.274}, {"id": "bb", "x": 2.25, "y": 0.142}, {"id": "bb", "x": 2.5, "y": 0.06}, {"id": "bb", "x": 2.75, "y": 0.02}, {"id": "bb", "x": 3, "y": 0.006}
    ]
  },
  "hconcat": [
    {
      "width": 268,
      "height": 235,
      "encoding": {
        "x": {"type": "quantitative", "scale": {"domain": [-2, 3], "nice": false, "zero": false},
              "axis": {"values": [-2, -1, 0, 1, 2, 3], "format": "d", "title": "Log₁₀ (Mdust) (M⊕)", "titlePadding": 8}},
        "y": {"type": "quantitative", "scale": {"domain": [0, 1], "nice": false},
              "axis": {"values": [0, 0.2, 0.4, 0.6, 0.8, 1.0], "format": ".1f", "title": "P ≥ Mdust", "titlePadding": 9}}
      },
      "layer": [
        {
          "data": {"name": "bands"},
          "transform": [{"filter": "datum.src === 'Stapper et al. 2022'"}],
          "mark": {"type": "area", "opacity": 0.5},
          "encoding": {
            "x": {"field": "x", "type": "quantitative"},
            "y": {"field": "lo", "type": "quantitative"},
            "y2": {"field": "hi"},
            "color": {"field": "src", "type": "nominal",
              "scale": {"domain": ["Stapper et al. 2022", "This work"], "range": ["#1f77b4", "#ff7f0e"]},
              "legend": {"title": null, "orient": "none", "legendX": 124, "legendY": 9, "padding": 0,
                "symbolType": "M-1,-0.32H1V0.32H-1Z", "symbolSize": 484, "symbolOpacity": 0.5, "symbolStrokeWidth": 0,
                "clipHeight": 15.5, "rowPadding": 0, "labelOffset": 8}}
          }
        },
        {
          "data": {"name": "steps"},
          "transform": [{"filter": "datum.src === 'Stapper et al. 2022'"}],
          "mark": {"type": "line", "interpolate": "step-after", "color": "#1f77b4", "strokeWidth": 3, "opacity": 0.85},
          "encoding": {"x": {"field": "x", "type": "quantitative"}, "y": {"field": "y", "type": "quantitative"}}
        },
        {
          "data": {"name": "bands"},
          "transform": [{"filter": "datum.src === 'This work'"}],
          "mark": {"type": "area", "opacity": 0.5},
          "encoding": {
            "x": {"field": "x", "type": "quantitative"},
            "y": {"field": "lo", "type": "quantitative"},
            "y2": {"field": "hi"},
            "color": {"field": "src", "type": "nominal"}
          }
        },
        {
          "data": {"name": "steps"},
          "transform": [{"filter": "datum.src === 'This work'"}],
          "mark": {"type": "line", "interpolate": "step-after", "color": "#ff7f0e", "strokeWidth": 3, "opacity": 0.85},
          "encoding": {"x": {"field": "x", "type": "quantitative"}, "y": {"field": "y", "type": "quantitative"}}
        }
      ]
    },
    {
      "width": 269,
      "height": 235,
      "data": {"name": "curves"},
      "encoding": {
        "x": {"field": "x", "type": "quantitative", "scale": {"domain": [-2, 3], "nice": false, "zero": false},
              "axis": {"values": [-2, -1, 0, 1, 2, 3], "format": "d", "title": "Log₁₀ (Mdust) (M⊕)", "titlePadding": 8}},
        "y": {"field": "y", "type": "quantitative", "scale": {"domain": [0, 1], "nice": false},
              "axis": {"values": [0, 0.2, 0.4, 0.6, 0.8, 1.0], "format": ".1f", "title": "P(Mdust)", "titlePadding": 4}},
        "detail": {"field": "id", "type": "nominal"}
      },
      "layer": [
        {
          "transform": [{"filter": "datum.id !== 'ob' && datum.id !== 'bb' && indexof(datum.id, 'o') === 0"}],
          "mark": {"type": "line", "interpolate": "monotone", "color": "#ff7f0e", "strokeWidth": 1.5, "opacity": 0.2}
        },
        {
          "transform": [{"filter": "datum.id !== 'ob' && datum.id !== 'bb' && indexof(datum.id, 'b') === 0"}],
          "mark": {"type": "line", "interpolate": "monotone", "color": "#1f77b4", "strokeWidth": 1.5, "opacity": 0.2}
        },
        {
          "transform": [{"filter": "datum.id === 'ob'"}],
          "mark": {"type": "line", "interpolate": "monotone", "color": "#ff7f0e", "strokeWidth": 2.5, "opacity": 0.9}
        },
        {
          "transform": [{"filter": "datum.id === 'bb'"}],
          "mark": {"type": "line", "interpolate": "monotone", "color": "#1f77b4", "strokeWidth": 2.5, "opacity": 0.9}
        }
      ]
    }
  ]
}
